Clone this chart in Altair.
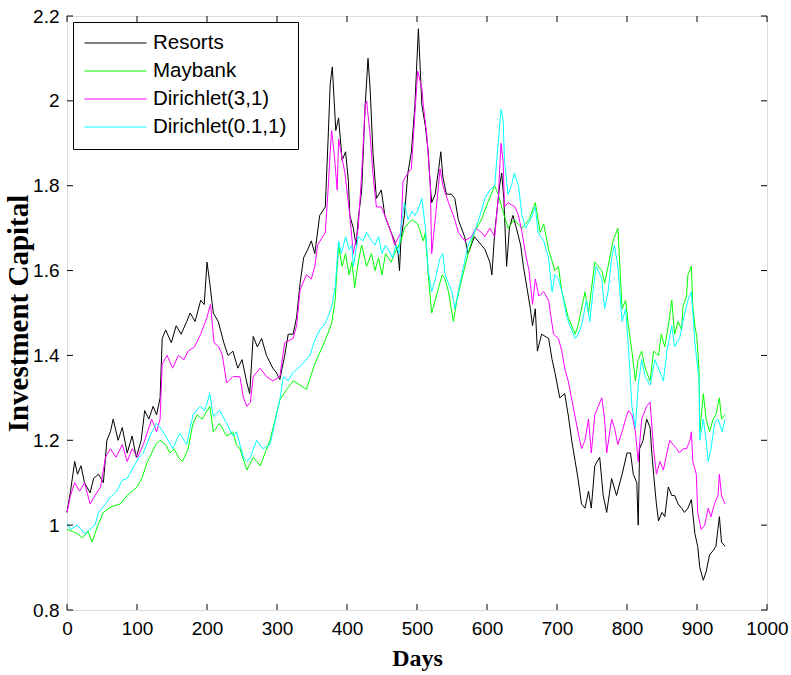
import altair as alt
import pandas as pd

series_names = ["Resorts", "Maybank", "Dirichlet(3,1)", "Dirichlet(0.1,1)"]
series_colors = ["#000000", "#00ff00", "#ff00ff", "#00ffff"]

resorts_days = [0, 5, 11, 15, 20, 25, 33, 38, 45, 52, 57, 62, 66, 73, 79, 86, 93, 99, 106, 111, 117, 123, 128, 133, 136, 141, 149, 156, 163, 171, 176, 183, 191, 196, 200, 204, 209, 216, 224, 230, 237, 244, 250, 257, 261, 266, 272, 278, 285, 294, 299, 304, 311, 316, 323, 328, 333, 338, 344, 349, 354, 361, 369, 373, 376, 379, 382, 384, 388, 393, 398, 402, 404, 409, 413, 416, 421, 426, 430, 433, 437, 442, 449, 454, 463, 468, 473, 475, 477, 482, 487, 492, 497, 502, 507, 512, 516, 519, 521, 526, 531, 534, 537, 542, 549, 554, 559, 568, 573, 582, 592, 597, 604, 607, 611, 618, 621, 624, 628, 632, 637, 642, 648, 652, 657, 662, 665, 669, 672, 678, 688, 693, 697, 704, 711, 716, 721, 726, 730, 735, 740, 745, 749, 754, 761, 766, 771, 778, 785, 793, 800, 805, 809, 814, 816, 818, 823, 828, 833, 835, 838, 842, 845, 850, 854, 859, 864, 868, 873, 878, 882, 887, 892, 897, 901, 904, 909, 913, 918, 923, 927, 932, 935, 940]
resorts_vals = [1.03, 1.08, 1.15, 1.12, 1.14, 1.10, 1.076, 1.11, 1.12, 1.10, 1.20, 1.22, 1.25, 1.20, 1.23, 1.17, 1.21, 1.16, 1.20, 1.27, 1.25, 1.28, 1.26, 1.30, 1.44, 1.46, 1.43, 1.47, 1.45, 1.48, 1.50, 1.48, 1.53, 1.52, 1.62, 1.57, 1.50, 1.48, 1.43, 1.40, 1.41, 1.37, 1.39, 1.335, 1.31, 1.445, 1.42, 1.44, 1.40, 1.37, 1.36, 1.343, 1.40, 1.45, 1.45, 1.49, 1.57, 1.63, 1.65, 1.67, 1.64, 1.73, 1.75, 1.91, 2.04, 2.08, 1.99, 1.93, 1.96, 1.86, 1.88, 1.81, 1.73, 1.70, 1.66, 1.72, 1.79, 1.99, 2.10, 2.03, 1.88, 1.77, 1.79, 1.73, 1.69, 1.67, 1.64, 1.60, 1.67, 1.73, 1.83, 1.88, 1.99, 2.17, 1.99, 1.94, 1.88, 1.80, 1.76, 1.78, 1.84, 1.88, 1.82, 1.78, 1.78, 1.77, 1.72, 1.68, 1.64, 1.68, 1.66, 1.65, 1.62, 1.59, 1.69, 1.80, 1.83, 1.77, 1.61, 1.70, 1.73, 1.70, 1.66, 1.61, 1.56, 1.51, 1.47, 1.51, 1.41, 1.45, 1.44, 1.39, 1.36, 1.30, 1.31, 1.26, 1.20, 1.15, 1.11, 1.05, 1.04, 1.08, 1.04, 1.14, 1.16, 1.07, 1.03, 1.11, 1.07, 1.12, 1.17, 1.17, 1.12, 1.10, 1.00, 1.18, 1.20, 1.25, 1.23, 1.18, 1.12, 1.05, 1.01, 1.03, 1.02, 1.09, 1.07, 1.07, 1.05, 1.04, 1.03, 1.04, 1.06, 0.98, 0.95, 0.90, 0.87, 0.89, 0.93, 0.94, 0.95, 1.02, 0.96, 0.95]

maybank_days = [0, 8, 15, 22, 30, 36, 44, 52, 60, 66, 76, 86, 93, 100, 107, 114, 121, 127, 133, 141, 147, 153, 159, 165, 173, 180, 186, 193, 204, 209, 218, 228, 237, 242, 247, 257, 266, 276, 290, 304, 314, 323, 333, 342, 354, 369, 378, 383, 388, 393, 398, 403, 407, 411, 416, 421, 428, 435, 440, 445, 450, 455, 463, 468, 477, 482, 487, 493, 501, 509, 512, 516, 521, 526, 531, 536, 540, 545, 552, 557, 564, 573, 582, 592, 601, 611, 616, 621, 630, 639, 650, 660, 669, 676, 681, 688, 697, 702, 707, 716, 726, 730, 740, 745, 754, 764, 768, 773, 780, 787, 793, 798, 802, 807, 812, 816, 821, 826, 833, 838, 845, 849, 854, 859, 864, 868, 873, 878, 880, 885, 887, 892, 894, 897, 900, 903, 904, 909, 913, 918, 923, 927, 932, 935, 940]
maybank_vals = [0.99, 0.985, 0.98, 0.97, 0.985, 0.96, 1.0, 1.03, 1.04, 1.045, 1.05, 1.07, 1.08, 1.09, 1.11, 1.146, 1.17, 1.19, 1.2, 1.19, 1.17, 1.18, 1.16, 1.15, 1.18, 1.24, 1.26, 1.25, 1.28, 1.22, 1.24, 1.21, 1.22, 1.19, 1.18, 1.13, 1.16, 1.14, 1.20, 1.295, 1.32, 1.34, 1.33, 1.32, 1.38, 1.436, 1.475, 1.53, 1.66, 1.61, 1.64, 1.59, 1.62, 1.56, 1.62, 1.66, 1.61, 1.64, 1.60, 1.63, 1.59, 1.64, 1.62, 1.64, 1.67, 1.70, 1.71, 1.72, 1.71, 1.67, 1.69, 1.59, 1.50, 1.53, 1.56, 1.59, 1.58, 1.55, 1.48, 1.53, 1.58, 1.64, 1.69, 1.72, 1.76, 1.80, 1.78, 1.75, 1.70, 1.72, 1.70, 1.72, 1.76, 1.69, 1.71, 1.65, 1.60, 1.61, 1.55, 1.49, 1.45, 1.47, 1.55, 1.50, 1.62, 1.60, 1.57, 1.61, 1.67, 1.70, 1.51, 1.53, 1.47, 1.41, 1.34, 1.39, 1.41, 1.37, 1.34, 1.41, 1.40, 1.45, 1.42, 1.47, 1.53, 1.45, 1.48, 1.46, 1.515, 1.54, 1.59, 1.61, 1.515, 1.47, 1.44, 1.36, 1.22, 1.31, 1.25, 1.22, 1.25, 1.26, 1.30, 1.25, 1.26]

dir31_days = [0, 5, 11, 18, 25, 33, 40, 48, 55, 62, 70, 79, 86, 93, 101, 109, 115, 121, 128, 133, 136, 143, 151, 159, 167, 173, 182, 191, 200, 205, 210, 217, 222, 228, 237, 247, 252, 257, 262, 266, 276, 285, 294, 304, 311, 323, 328, 333, 342, 349, 354, 358, 369, 373, 376, 378, 382, 386, 388, 397, 404, 409, 416, 421, 426, 428, 433, 437, 442, 449, 454, 463, 468, 477, 480, 487, 492, 497, 501, 507, 509, 514, 519, 521, 526, 533, 537, 545, 554, 559, 568, 578, 584, 592, 597, 604, 611, 616, 620, 623, 625, 630, 640, 645, 650, 655, 660, 665, 669, 674, 681, 688, 695, 702, 707, 711, 716, 723, 730, 735, 740, 745, 749, 754, 759, 764, 768, 771, 778, 782, 787, 793, 798, 802, 807, 812, 816, 821, 828, 833, 838, 842, 847, 852, 857, 861, 866, 871, 875, 880, 885, 890, 892, 894, 899, 901, 906, 911, 916, 920, 925, 930, 932, 935, 940]
dir31_vals = [1.03, 1.07, 1.10, 1.08, 1.10, 1.05, 1.07, 1.09, 1.16, 1.18, 1.16, 1.19, 1.15, 1.18, 1.16, 1.19, 1.22, 1.25, 1.22, 1.25, 1.38, 1.40, 1.37, 1.40, 1.39, 1.41, 1.42, 1.45, 1.49, 1.52, 1.43, 1.42, 1.40, 1.335, 1.35, 1.35, 1.30, 1.28, 1.29, 1.35, 1.37, 1.35, 1.34, 1.35, 1.43, 1.44, 1.47, 1.555, 1.59, 1.58, 1.61, 1.66, 1.69, 1.79, 1.88, 1.93, 1.87, 1.79, 1.91, 1.83, 1.73, 1.64, 1.70, 1.83, 1.99, 2.00, 1.92, 1.83, 1.75, 1.75, 1.73, 1.69, 1.66, 1.69, 1.81, 1.83, 1.84, 1.97, 2.07, 2.03, 1.99, 1.92, 1.80, 1.64, 1.72, 1.84, 1.80, 1.76, 1.72, 1.69, 1.67, 1.68, 1.70, 1.69, 1.68, 1.70, 1.68, 1.77, 1.90, 1.86, 1.75, 1.76, 1.75, 1.73, 1.69, 1.64, 1.60, 1.52, 1.58, 1.54, 1.55, 1.53, 1.45, 1.44, 1.41, 1.37, 1.34, 1.28, 1.22, 1.18, 1.20, 1.25, 1.17, 1.26, 1.28, 1.30, 1.25, 1.17, 1.25, 1.23, 1.19, 1.22, 1.25, 1.27, 1.26, 1.22, 1.15, 1.25, 1.28, 1.29, 1.18, 1.12, 1.15, 1.13, 1.17, 1.20, 1.19, 1.18, 1.17, 1.18, 1.18, 1.20, 1.22, 1.15, 1.12, 1.03, 0.99, 1.00, 1.04, 1.02, 1.05, 1.07, 1.12, 1.07, 1.05]

dir01_days = [0, 5, 15, 25, 33, 40, 45, 55, 62, 71, 79, 86, 96, 103, 109, 116, 123, 128, 133, 141, 151, 161, 171, 180, 190, 197, 204, 209, 218, 228, 237, 242, 252, 257, 262, 271, 280, 290, 304, 309, 316, 323, 333, 347, 354, 361, 369, 378, 383, 388, 392, 398, 403, 407, 409, 416, 423, 428, 435, 440, 445, 450, 455, 459, 465, 470, 474, 477, 482, 487, 493, 497, 501, 507, 512, 516, 521, 526, 533, 537, 540, 550, 554, 559, 564, 573, 582, 590, 597, 604, 611, 616, 620, 623, 625, 630, 635, 639, 645, 650, 655, 662, 669, 673, 681, 688, 693, 697, 702, 707, 714, 721, 726, 730, 735, 742, 747, 752, 756, 764, 768, 773, 778, 782, 787, 793, 798, 802, 807, 812, 816, 821, 826, 833, 840, 847, 852, 857, 864, 868, 875, 880, 887, 892, 897, 903, 904, 909, 913, 916, 920, 925, 930, 936, 940]
dir01_vals = [1.005, 0.99, 1.0, 0.98, 0.99, 1.0, 1.03, 1.05, 1.066, 1.08, 1.106, 1.11, 1.14, 1.16, 1.17, 1.2, 1.225, 1.24, 1.23, 1.21, 1.18, 1.217, 1.19, 1.26, 1.28, 1.27, 1.31, 1.256, 1.27, 1.24, 1.21, 1.22, 1.16, 1.15, 1.16, 1.20, 1.18, 1.19, 1.295, 1.35, 1.34, 1.36, 1.374, 1.40, 1.436, 1.46, 1.475, 1.514, 1.56, 1.67, 1.64, 1.68, 1.65, 1.66, 1.61, 1.68, 1.67, 1.69, 1.67, 1.66, 1.68, 1.64, 1.66, 1.65, 1.63, 1.66, 1.64, 1.70, 1.76, 1.72, 1.74, 1.73, 1.74, 1.77, 1.70, 1.60, 1.55, 1.58, 1.63, 1.64, 1.59, 1.55, 1.51, 1.55, 1.59, 1.66, 1.69, 1.73, 1.77, 1.79, 1.80, 1.90, 1.98, 1.955, 1.86, 1.78, 1.80, 1.83, 1.80, 1.73, 1.70, 1.72, 1.75, 1.69, 1.67, 1.63, 1.55, 1.59, 1.58, 1.55, 1.49, 1.46, 1.44, 1.45, 1.47, 1.53, 1.48, 1.56, 1.61, 1.58, 1.51, 1.55, 1.63, 1.66, 1.61, 1.48, 1.51, 1.42, 1.28, 1.23, 1.33, 1.39, 1.35, 1.33, 1.39, 1.36, 1.34, 1.41, 1.47, 1.42, 1.44, 1.48, 1.53, 1.55, 1.43, 1.34, 1.20, 1.25, 1.20, 1.15, 1.18, 1.24, 1.25, 1.22, 1.25]

x_ticks = [0, 100, 200, 300, 400, 500, 600, 700, 800, 900, 1000]
y_ticks = [0.8, 1.0, 1.2, 1.4, 1.6, 1.8, 2.0, 2.2]

W, H = 700, 594

rows = []
for order, (name, days, vals) in enumerate([
    ("Resorts", resorts_days, resorts_vals),
    ("Maybank", maybank_days, maybank_vals),
    ("Dirichlet(3,1)", dir31_days, dir31_vals),
    ("Dirichlet(0.1,1)", dir01_days, dir01_vals),
]):
    for d, v in zip(days, vals):
        rows.append({"series": name, "day": d, "value": v, "ord": order})
df = pd.DataFrame(rows)

xscale = alt.Scale(domain=[0, 1000], nice=False)
yscale = alt.Scale(domain=[0.8, 2.2], nice=False)

x_axis = alt.Axis(values=x_ticks, format="d", title="Days", grid=False, domain=False,
                  ticks=False, labelPadding=9, labelFontSize=19, labelFlush=False,
                  labelOverlap=False,
                  labelFont="Liberation Sans", labelColor="black",
                  titleFont="Liberation Serif", titleFontSize=24,
                  titleFontWeight="bold", titleColor="black", titlePadding=8)
y_axis = alt.Axis(values=y_ticks, format="~g", title="Investment Capital",
                  grid=False, domain=False, ticks=False, labelPadding=8,
                  labelFontSize=19, labelFlush=False, labelOverlap=False,
                  labelFont="Liberation Sans", labelColor="black",
                  titleFont="Liberation Serif", titleFontSize=29,
                  titleFontWeight="bold", titleColor="black", titlePadding=-1)

lines = alt.Chart(df).mark_line(strokeWidth=1, interpolate="linear").encode(
    x=alt.X("day:Q", scale=xscale, axis=x_axis),
    y=alt.Y("value:Q", scale=yscale, axis=y_axis),
    color=alt.Color("series:N",
                    scale=alt.Scale(domain=series_names, range=series_colors),
                    legend=alt.Legend(orient="none", legendX=6, legendY=6, title=None,
                                      symbolType="stroke", symbolSize=3844,
                                      symbolStrokeWidth=1, labelFontSize=20.5,
                                      labelFont="Liberation Sans", labelColor="black",
                                      strokeColor="black", fillColor="white",
                                      padding=11, rowPadding=7, clipHeight=20,
                                      labelOffset=6)),
    detail="ord:O",
    order="day:Q",
)

xt = pd.DataFrame({"t": x_ticks})
yt = pd.DataFrame({"t": y_ticks})
tick_len = 6
xb = alt.Chart(xt).mark_rule(color="black", strokeWidth=1).encode(
    x=alt.X("t:Q", scale=xscale, axis=x_axis), y=alt.value(H), y2=alt.value(H - tick_len))
xtop = alt.Chart(xt).mark_rule(color="black", strokeWidth=1).encode(
    x=alt.X("t:Q", scale=xscale, axis=x_axis), y=alt.value(0), y2=alt.value(tick_len))
yl = alt.Chart(yt).mark_rule(color="black", strokeWidth=1).encode(
    y=alt.Y("t:Q", scale=yscale, axis=y_axis), x=alt.value(0), x2=alt.value(tick_len))
yr = alt.Chart(yt).mark_rule(color="black", strokeWidth=1).encode(
    y=alt.Y("t:Q", scale=yscale, axis=y_axis), x=alt.value(W), x2=alt.value(W - tick_len))

chart = alt.layer(lines, xb, xtop, yl, yr).properties(
    width=W, height=H,
    autosize=alt.AutoSizeParams(type="none"),
    padding={"left": 67, "top": 16, "right": 24, "bottom": 65},
).configure_view(stroke="#000000", strokeWidth=1.2).configure(background="white")

chart.save("out.html", embed_options={"renderer": "svg", "actions": False})
